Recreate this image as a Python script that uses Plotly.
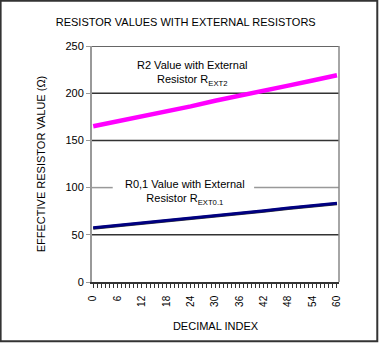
import plotly.graph_objects as go

# data
idx = [0, 6, 12, 18, 24, 30, 36, 42, 48, 54, 60]
r2_vals = [165, 170, 175.5, 181, 186, 192, 197, 203, 208, 213.5, 219]
r01_vals = [57.5, 60, 62.5, 65, 68, 70.5, 73, 75.5, 78.5, 81, 83.5]
x_ticks = [0, 6, 12, 18, 24, 30, 36, 42, 48, 54, 60]
y_ticks = [0, 50, 100, 150, 200, 250]

FONT = "Liberation Sans, Arial, sans-serif"

fig = go.Figure()
fig.add_trace(go.Scatter(x=idx, y=r2_vals, mode="lines",
                         line=dict(color="#FF00FF", width=4.5), showlegend=False))
fig.add_trace(go.Scatter(x=idx, y=[v - 0.6 for v in r01_vals], mode="lines",
                         line=dict(color="#333333", width=3), showlegend=False))
fig.add_trace(go.Scatter(x=idx, y=r01_vals, mode="lines",
                         line=dict(color="#000080", width=3), showlegend=False))

shapes = []
# gridlines
for v in [50, 150, 200, 250]:
    shapes.append(dict(type="line", xref="paper", yref="y", x0=0, x1=1, y0=v, y1=v,
                       line=dict(color="#333333", width=1.5), layer="below"))
# broken gray line at 100
shapes.append(dict(type="line", xref="x", yref="y", x0=-0.3, x1=4.8, y0=100, y1=100,
                   line=dict(color="#999999", width=1.5), layer="below"))
shapes.append(dict(type="line", xref="x", yref="y", x0=39.6, x1=60.5, y0=100, y1=100,
                   line=dict(color="#999999", width=1.5), layer="below"))
# right border of plot
shapes.append(dict(type="line", xref="paper", yref="paper", x0=1, x1=1, y0=0, y1=1,
                   line=dict(color="#888888", width=1.5)))
# outer border
shapes.append(dict(type="rect", xref="paper", yref="paper",
                   x0=-0.370, x1=1.155, y0=-0.251, y1=1.192,
                   line=dict(color="#333333", width=2)))

fig.update_layout(
    width=379, height=343,
    margin=dict(l=92, r=40, t=46, b=61),
    paper_bgcolor="white", plot_bgcolor="white",
    font=dict(family=FONT, size=11, color="#000000"),
    title=dict(text="RESISTOR VALUES WITH EXTERNAL RESISTORS", x=0.49, xanchor="center",
               y=0.936, yanchor="middle", font=dict(size=11, family=FONT)),
    shapes=shapes,
    xaxis=dict(range=[-0.3, 60.5], tickvals=x_ticks, ticktext=[str(t) for t in x_ticks],
               tickangle=-90, ticks="outside", ticklen=4, tickcolor="#333333",
               minor=dict(dtick=1, tick0=0, ticks="outside", ticklen=4, tickcolor="#333333"),
               showline=True, linecolor="#333333", linewidth=1.5, showgrid=False,
               zeroline=False, tickfont=dict(size=10, family=FONT), ticklabelstandoff=4,
               title=dict(text="DECIMAL INDEX", font=dict(size=11, family=FONT), standoff=16)),
    yaxis=dict(range=[0, 250], tickvals=y_ticks, ticks="outside", ticklen=4,
               tickcolor="#999999", showline=True, linecolor="#999999", linewidth=2,
               showgrid=False, zeroline=False, tickfont=dict(size=11, family=FONT),
               title=dict(text="EFFECTIVE RESISTOR VALUE (Ω)", font=dict(size=11, family=FONT),
                          standoff=18)),
    annotations=[
        dict(x=24.4, y=221, xref="x", yref="y", showarrow=False,
             text="R2 Value with External<br>Resistor R<sub>EXT2</sub>",
             font=dict(size=11, family=FONT), align="center"),
        dict(x=22.5, y=95, xref="x", yref="y", showarrow=False,
             text="R0,1 Value with External<br>Resistor R<sub>EXT0.1</sub>",
             font=dict(size=11, family=FONT), align="center"),
    ],
)

fig.write_html("out.html")
